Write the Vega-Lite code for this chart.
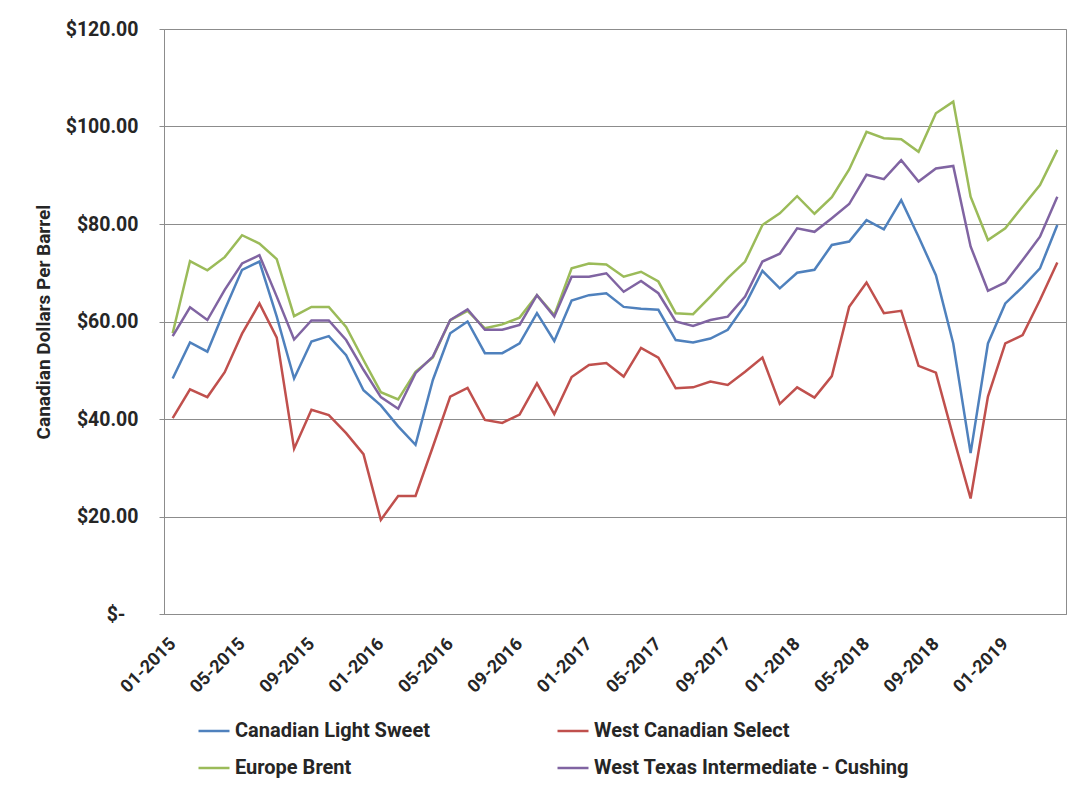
{
  "$schema": "https://vega.github.io/schema/vega-lite/v6.json",
  "autosize": {"type": "none"},
  "padding": {"left": 164, "top": 29, "right": 14, "bottom": 177},
  "width": 902,
  "height": 585,
  "background": "#ffffff",
  "config": {
    "view": {"stroke": "#8c8c8c", "strokeWidth": 1},
    "font": "Roboto"
  },
  "data": {
    "values": [
      {"month": "01-2015", "series": "Canadian Light Sweet", "price": 48.3},
      {"month": "02-2015", "series": "Canadian Light Sweet", "price": 55.7},
      {"month": "03-2015", "series": "Canadian Light Sweet", "price": 53.8},
      {"month": "04-2015", "series": "Canadian Light Sweet", "price": 62.4},
      {"month": "05-2015", "series": "Canadian Light Sweet", "price": 70.6},
      {"month": "06-2015", "series": "Canadian Light Sweet", "price": 72.3},
      {"month": "07-2015", "series": "Canadian Light Sweet", "price": 61.0},
      {"month": "08-2015", "series": "Canadian Light Sweet", "price": 48.3},
      {"month": "09-2015", "series": "Canadian Light Sweet", "price": 55.9},
      {"month": "10-2015", "series": "Canadian Light Sweet", "price": 57.0},
      {"month": "11-2015", "series": "Canadian Light Sweet", "price": 53.1},
      {"month": "12-2015", "series": "Canadian Light Sweet", "price": 45.9},
      {"month": "01-2016", "series": "Canadian Light Sweet", "price": 42.8},
      {"month": "02-2016", "series": "Canadian Light Sweet", "price": 38.5},
      {"month": "03-2016", "series": "Canadian Light Sweet", "price": 34.7},
      {"month": "04-2016", "series": "Canadian Light Sweet", "price": 48.0},
      {"month": "05-2016", "series": "Canadian Light Sweet", "price": 57.6},
      {"month": "06-2016", "series": "Canadian Light Sweet", "price": 60.0},
      {"month": "07-2016", "series": "Canadian Light Sweet", "price": 53.5},
      {"month": "08-2016", "series": "Canadian Light Sweet", "price": 53.5},
      {"month": "09-2016", "series": "Canadian Light Sweet", "price": 55.5},
      {"month": "10-2016", "series": "Canadian Light Sweet", "price": 61.7},
      {"month": "11-2016", "series": "Canadian Light Sweet", "price": 56.0},
      {"month": "12-2016", "series": "Canadian Light Sweet", "price": 64.3},
      {"month": "01-2017", "series": "Canadian Light Sweet", "price": 65.4},
      {"month": "02-2017", "series": "Canadian Light Sweet", "price": 65.8},
      {"month": "03-2017", "series": "Canadian Light Sweet", "price": 63.0},
      {"month": "04-2017", "series": "Canadian Light Sweet", "price": 62.6},
      {"month": "05-2017", "series": "Canadian Light Sweet", "price": 62.4},
      {"month": "06-2017", "series": "Canadian Light Sweet", "price": 56.2},
      {"month": "07-2017", "series": "Canadian Light Sweet", "price": 55.7},
      {"month": "08-2017", "series": "Canadian Light Sweet", "price": 56.5},
      {"month": "09-2017", "series": "Canadian Light Sweet", "price": 58.3},
      {"month": "10-2017", "series": "Canadian Light Sweet", "price": 63.4},
      {"month": "11-2017", "series": "Canadian Light Sweet", "price": 70.4},
      {"month": "12-2017", "series": "Canadian Light Sweet", "price": 66.8},
      {"month": "01-2018", "series": "Canadian Light Sweet", "price": 70.0},
      {"month": "02-2018", "series": "Canadian Light Sweet", "price": 70.6},
      {"month": "03-2018", "series": "Canadian Light Sweet", "price": 75.7},
      {"month": "04-2018", "series": "Canadian Light Sweet", "price": 76.4},
      {"month": "05-2018", "series": "Canadian Light Sweet", "price": 80.8},
      {"month": "06-2018", "series": "Canadian Light Sweet", "price": 78.9},
      {"month": "07-2018", "series": "Canadian Light Sweet", "price": 84.9},
      {"month": "08-2018", "series": "Canadian Light Sweet", "price": 77.4},
      {"month": "09-2018", "series": "Canadian Light Sweet", "price": 69.5},
      {"month": "10-2018", "series": "Canadian Light Sweet", "price": 55.5},
      {"month": "11-2018", "series": "Canadian Light Sweet", "price": 33.0},
      {"month": "12-2018", "series": "Canadian Light Sweet", "price": 55.5},
      {"month": "01-2019", "series": "Canadian Light Sweet", "price": 63.7},
      {"month": "02-2019", "series": "Canadian Light Sweet", "price": 67.1},
      {"month": "03-2019", "series": "Canadian Light Sweet", "price": 70.9},
      {"month": "04-2019", "series": "Canadian Light Sweet", "price": 79.8},

      {"month": "01-2015", "series": "West Canadian Select", "price": 40.2},
      {"month": "02-2015", "series": "West Canadian Select", "price": 46.1},
      {"month": "03-2015", "series": "West Canadian Select", "price": 44.5},
      {"month": "04-2015", "series": "West Canadian Select", "price": 49.6},
      {"month": "05-2015", "series": "West Canadian Select", "price": 57.5},
      {"month": "06-2015", "series": "West Canadian Select", "price": 63.7},
      {"month": "07-2015", "series": "West Canadian Select", "price": 56.7},
      {"month": "08-2015", "series": "West Canadian Select", "price": 33.9},
      {"month": "09-2015", "series": "West Canadian Select", "price": 41.9},
      {"month": "10-2015", "series": "West Canadian Select", "price": 40.8},
      {"month": "11-2015", "series": "West Canadian Select", "price": 37.1},
      {"month": "12-2015", "series": "West Canadian Select", "price": 32.8},
      {"month": "01-2016", "series": "West Canadian Select", "price": 19.3},
      {"month": "02-2016", "series": "West Canadian Select", "price": 24.2},
      {"month": "03-2016", "series": "West Canadian Select", "price": 24.2},
      {"month": "04-2016", "series": "West Canadian Select", "price": 34.3},
      {"month": "05-2016", "series": "West Canadian Select", "price": 44.6},
      {"month": "06-2016", "series": "West Canadian Select", "price": 46.4},
      {"month": "07-2016", "series": "West Canadian Select", "price": 39.8},
      {"month": "08-2016", "series": "West Canadian Select", "price": 39.2},
      {"month": "09-2016", "series": "West Canadian Select", "price": 40.9},
      {"month": "10-2016", "series": "West Canadian Select", "price": 47.3},
      {"month": "11-2016", "series": "West Canadian Select", "price": 41.0},
      {"month": "12-2016", "series": "West Canadian Select", "price": 48.6},
      {"month": "01-2017", "series": "West Canadian Select", "price": 51.1},
      {"month": "02-2017", "series": "West Canadian Select", "price": 51.5},
      {"month": "03-2017", "series": "West Canadian Select", "price": 48.7},
      {"month": "04-2017", "series": "West Canadian Select", "price": 54.6},
      {"month": "05-2017", "series": "West Canadian Select", "price": 52.6},
      {"month": "06-2017", "series": "West Canadian Select", "price": 46.3},
      {"month": "07-2017", "series": "West Canadian Select", "price": 46.5},
      {"month": "08-2017", "series": "West Canadian Select", "price": 47.7},
      {"month": "09-2017", "series": "West Canadian Select", "price": 47.0},
      {"month": "10-2017", "series": "West Canadian Select", "price": 49.7},
      {"month": "11-2017", "series": "West Canadian Select", "price": 52.6},
      {"month": "12-2017", "series": "West Canadian Select", "price": 43.1},
      {"month": "01-2018", "series": "West Canadian Select", "price": 46.5},
      {"month": "02-2018", "series": "West Canadian Select", "price": 44.4},
      {"month": "03-2018", "series": "West Canadian Select", "price": 48.8},
      {"month": "04-2018", "series": "West Canadian Select", "price": 63.0},
      {"month": "05-2018", "series": "West Canadian Select", "price": 68.0},
      {"month": "06-2018", "series": "West Canadian Select", "price": 61.7},
      {"month": "07-2018", "series": "West Canadian Select", "price": 62.2},
      {"month": "08-2018", "series": "West Canadian Select", "price": 50.9},
      {"month": "09-2018", "series": "West Canadian Select", "price": 49.5},
      {"month": "10-2018", "series": "West Canadian Select", "price": 36.4},
      {"month": "11-2018", "series": "West Canadian Select", "price": 23.7},
      {"month": "12-2018", "series": "West Canadian Select", "price": 44.6},
      {"month": "01-2019", "series": "West Canadian Select", "price": 55.5},
      {"month": "02-2019", "series": "West Canadian Select", "price": 57.2},
      {"month": "03-2019", "series": "West Canadian Select", "price": 64.4},
      {"month": "04-2019", "series": "West Canadian Select", "price": 72.1},

      {"month": "01-2015", "series": "Europe Brent", "price": 57.6},
      {"month": "02-2015", "series": "Europe Brent", "price": 72.4},
      {"month": "03-2015", "series": "Europe Brent", "price": 70.5},
      {"month": "04-2015", "series": "Europe Brent", "price": 73.2},
      {"month": "05-2015", "series": "Europe Brent", "price": 77.7},
      {"month": "06-2015", "series": "Europe Brent", "price": 76.0},
      {"month": "07-2015", "series": "Europe Brent", "price": 72.8},
      {"month": "08-2015", "series": "Europe Brent", "price": 61.1},
      {"month": "09-2015", "series": "Europe Brent", "price": 63.0},
      {"month": "10-2015", "series": "Europe Brent", "price": 63.0},
      {"month": "11-2015", "series": "Europe Brent", "price": 58.9},
      {"month": "12-2015", "series": "Europe Brent", "price": 52.1},
      {"month": "01-2016", "series": "Europe Brent", "price": 45.5},
      {"month": "02-2016", "series": "Europe Brent", "price": 44.0},
      {"month": "03-2016", "series": "Europe Brent", "price": 49.7},
      {"month": "04-2016", "series": "Europe Brent", "price": 52.6},
      {"month": "05-2016", "series": "Europe Brent", "price": 60.3},
      {"month": "06-2016", "series": "Europe Brent", "price": 62.2},
      {"month": "07-2016", "series": "Europe Brent", "price": 58.6},
      {"month": "08-2016", "series": "Europe Brent", "price": 59.4},
      {"month": "09-2016", "series": "Europe Brent", "price": 60.8},
      {"month": "10-2016", "series": "Europe Brent", "price": 65.4},
      {"month": "11-2016", "series": "Europe Brent", "price": 61.3},
      {"month": "12-2016", "series": "Europe Brent", "price": 70.9},
      {"month": "01-2017", "series": "Europe Brent", "price": 71.9},
      {"month": "02-2017", "series": "Europe Brent", "price": 71.7},
      {"month": "03-2017", "series": "Europe Brent", "price": 69.2},
      {"month": "04-2017", "series": "Europe Brent", "price": 70.2},
      {"month": "05-2017", "series": "Europe Brent", "price": 68.2},
      {"month": "06-2017", "series": "Europe Brent", "price": 61.7},
      {"month": "07-2017", "series": "Europe Brent", "price": 61.5},
      {"month": "08-2017", "series": "Europe Brent", "price": 65.1},
      {"month": "09-2017", "series": "Europe Brent", "price": 68.9},
      {"month": "10-2017", "series": "Europe Brent", "price": 72.3},
      {"month": "11-2017", "series": "Europe Brent", "price": 79.8},
      {"month": "12-2017", "series": "Europe Brent", "price": 82.2},
      {"month": "01-2018", "series": "Europe Brent", "price": 85.7},
      {"month": "02-2018", "series": "Europe Brent", "price": 82.1},
      {"month": "03-2018", "series": "Europe Brent", "price": 85.5},
      {"month": "04-2018", "series": "Europe Brent", "price": 91.2},
      {"month": "05-2018", "series": "Europe Brent", "price": 98.9},
      {"month": "06-2018", "series": "Europe Brent", "price": 97.6},
      {"month": "07-2018", "series": "Europe Brent", "price": 97.4},
      {"month": "08-2018", "series": "Europe Brent", "price": 94.8},
      {"month": "09-2018", "series": "Europe Brent", "price": 102.7},
      {"month": "10-2018", "series": "Europe Brent", "price": 105.1},
      {"month": "11-2018", "series": "Europe Brent", "price": 85.6},
      {"month": "12-2018", "series": "Europe Brent", "price": 76.7},
      {"month": "01-2019", "series": "Europe Brent", "price": 79.1},
      {"month": "02-2019", "series": "Europe Brent", "price": 83.6},
      {"month": "03-2019", "series": "Europe Brent", "price": 88.0},
      {"month": "04-2019", "series": "Europe Brent", "price": 95.2},

      {"month": "01-2015", "series": "West Texas Intermediate - Cushing", "price": 57.0},
      {"month": "02-2015", "series": "West Texas Intermediate - Cushing", "price": 62.9},
      {"month": "03-2015", "series": "West Texas Intermediate - Cushing", "price": 60.3},
      {"month": "04-2015", "series": "West Texas Intermediate - Cushing", "price": 66.5},
      {"month": "05-2015", "series": "West Texas Intermediate - Cushing", "price": 71.9},
      {"month": "06-2015", "series": "West Texas Intermediate - Cushing", "price": 73.6},
      {"month": "07-2015", "series": "West Texas Intermediate - Cushing", "price": 65.1},
      {"month": "08-2015", "series": "West Texas Intermediate - Cushing", "price": 56.3},
      {"month": "09-2015", "series": "West Texas Intermediate - Cushing", "price": 60.2},
      {"month": "10-2015", "series": "West Texas Intermediate - Cushing", "price": 60.2},
      {"month": "11-2015", "series": "West Texas Intermediate - Cushing", "price": 56.2},
      {"month": "12-2015", "series": "West Texas Intermediate - Cushing", "price": 50.1},
      {"month": "01-2016", "series": "West Texas Intermediate - Cushing", "price": 44.5},
      {"month": "02-2016", "series": "West Texas Intermediate - Cushing", "price": 42.1},
      {"month": "03-2016", "series": "West Texas Intermediate - Cushing", "price": 49.4},
      {"month": "04-2016", "series": "West Texas Intermediate - Cushing", "price": 52.8},
      {"month": "05-2016", "series": "West Texas Intermediate - Cushing", "price": 60.3},
      {"month": "06-2016", "series": "West Texas Intermediate - Cushing", "price": 62.5},
      {"month": "07-2016", "series": "West Texas Intermediate - Cushing", "price": 58.3},
      {"month": "08-2016", "series": "West Texas Intermediate - Cushing", "price": 58.3},
      {"month": "09-2016", "series": "West Texas Intermediate - Cushing", "price": 59.3},
      {"month": "10-2016", "series": "West Texas Intermediate - Cushing", "price": 65.4},
      {"month": "11-2016", "series": "West Texas Intermediate - Cushing", "price": 61.0},
      {"month": "12-2016", "series": "West Texas Intermediate - Cushing", "price": 69.2},
      {"month": "01-2017", "series": "West Texas Intermediate - Cushing", "price": 69.2},
      {"month": "02-2017", "series": "West Texas Intermediate - Cushing", "price": 69.9},
      {"month": "03-2017", "series": "West Texas Intermediate - Cushing", "price": 66.1},
      {"month": "04-2017", "series": "West Texas Intermediate - Cushing", "price": 68.3},
      {"month": "05-2017", "series": "West Texas Intermediate - Cushing", "price": 65.8},
      {"month": "06-2017", "series": "West Texas Intermediate - Cushing", "price": 60.0},
      {"month": "07-2017", "series": "West Texas Intermediate - Cushing", "price": 59.1},
      {"month": "08-2017", "series": "West Texas Intermediate - Cushing", "price": 60.3},
      {"month": "09-2017", "series": "West Texas Intermediate - Cushing", "price": 61.0},
      {"month": "10-2017", "series": "West Texas Intermediate - Cushing", "price": 65.1},
      {"month": "11-2017", "series": "West Texas Intermediate - Cushing", "price": 72.3},
      {"month": "12-2017", "series": "West Texas Intermediate - Cushing", "price": 73.9},
      {"month": "01-2018", "series": "West Texas Intermediate - Cushing", "price": 79.1},
      {"month": "02-2018", "series": "West Texas Intermediate - Cushing", "price": 78.4},
      {"month": "03-2018", "series": "West Texas Intermediate - Cushing", "price": 81.2},
      {"month": "04-2018", "series": "West Texas Intermediate - Cushing", "price": 84.1},
      {"month": "05-2018", "series": "West Texas Intermediate - Cushing", "price": 90.1},
      {"month": "06-2018", "series": "West Texas Intermediate - Cushing", "price": 89.2},
      {"month": "07-2018", "series": "West Texas Intermediate - Cushing", "price": 93.1},
      {"month": "08-2018", "series": "West Texas Intermediate - Cushing", "price": 88.7},
      {"month": "09-2018", "series": "West Texas Intermediate - Cushing", "price": 91.4},
      {"month": "10-2018", "series": "West Texas Intermediate - Cushing", "price": 91.9},
      {"month": "11-2018", "series": "West Texas Intermediate - Cushing", "price": 75.4},
      {"month": "12-2018", "series": "West Texas Intermediate - Cushing", "price": 66.3},
      {"month": "01-2019", "series": "West Texas Intermediate - Cushing", "price": 68.0},
      {"month": "02-2019", "series": "West Texas Intermediate - Cushing", "price": 72.6},
      {"month": "03-2019", "series": "West Texas Intermediate - Cushing", "price": 77.4},
      {"month": "04-2019", "series": "West Texas Intermediate - Cushing", "price": 85.6}
    ]
  },
  "mark": {"type": "line", "strokeWidth": 2.5, "strokeJoin": "miter"},
  "encoding": {
    "x": {
      "field": "month",
      "type": "ordinal",
      "sort": null,
      "scale": {"type": "point", "padding": 0.5},
      "axis": {
        "title": null,
        "values": ["01-2015", "05-2015", "09-2015", "01-2016", "05-2016", "09-2016", "01-2017", "05-2017", "09-2017", "01-2018", "05-2018", "09-2018", "01-2019"],
        "labelAngle": -45,
        "labelAlign": "right",
        "labelBaseline": "middle",
        "labelPadding": 27,
        "labelFont": "Roboto",
        "labelFontWeight": "bold",
        "labelFontSize": 18,
        "labelColor": "#262626",
        "ticks": false,
        "tickSize": 0,
        "domainColor": "#8c8c8c",
        "grid": false,
        "labelOverlap": false
      }
    },
    "y": {
      "field": "price",
      "type": "quantitative",
      "scale": {"domain": [0, 120], "nice": false},
      "axis": {
        "title": "Canadian Dollars Per Barrel",
        "titleFont": "Roboto",
        "titleFontWeight": "bold",
        "titleFontSize": 19,
        "titleColor": "#262626",
        "titlePadding": 12,
        "values": [0, 20, 40, 60, 80, 100, 120],
        "labelExpr": "datum.value == 0 ? '$-' : '$' + format(datum.value, '.2f')",
        "labelFont": "Roboto",
        "labelFontWeight": "bold",
        "labelFontSize": 19.5,
        "labelColor": "#262626",
        "labelPadding": {"condition": {"test": "datum.value == 0", "value": 34}, "value": 21},
        "tickSize": 5,
        "tickColor": "#8c8c8c",
        "domainColor": "#8c8c8c",
        "gridColor": "#8c8c8c",
        "grid": true
      }
    },
    "color": {
      "field": "series",
      "type": "nominal",
      "sort": null,
      "scale": {
        "domain": ["Canadian Light Sweet", "West Canadian Select", "Europe Brent", "West Texas Intermediate - Cushing"],
        "range": ["#4f81bd", "#c0504d", "#9bbb59", "#8064a2"]
      },
      "legend": {
        "title": null,
        "orient": "none",
        "legendX": 33,
        "legendY": 685,
        "padding": 0,
        "columns": 2,
        "direction": "horizontal",
        "symbolType": "stroke",
        "symbolSize": 961,
        "symbolStrokeWidth": 2.5,
        "labelFont": "Roboto",
        "labelFontWeight": "bold",
        "labelFontSize": 20,
        "labelColor": "#262626",
        "labelLimit": 500,
        "labelOffset": 4,
        "columnPadding": 122,
        "rowPadding": 10
      }
    }
  }
}
